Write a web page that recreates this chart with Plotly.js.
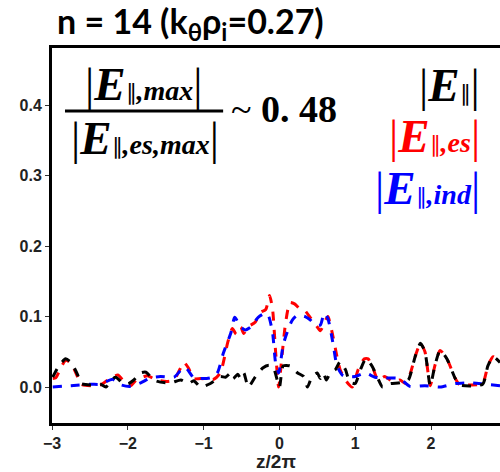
<!DOCTYPE html>
<html>
<head>
<meta charset="utf-8">
<script src="https://cdn.plot.ly/plotly-3.0.1.min.js"></script>
<style>html,body{margin:0;padding:0;background:#fff;}#chart{width:500px;height:472px;}</style>
</head>
<body>
<div id="chart"></div>
<script>
// |E_par,es| (red)
const xEs = [-2.99,-2.95,-2.88,-2.82,-2.75,-2.66,-2.62,-2.49,-2.36,-2.26,-2.13,-2.03,-1.96,-1.89,-1.83,-1.74,-1.66,-1.57,-1.47,-1.39,-1.30,-1.26,-1.20,-1.13,-1.04,-0.87,-0.78,-0.68,-0.62,-0.57,-0.51,-0.47,-0.42,-0.32,-0.25,-0.18,-0.13,-0.09,-0.05,-0.01,0.03,0.08,0.14,0.20,0.28,0.34,0.41,0.47,0.54,0.61,0.64,0.71,0.76,0.80,0.87,0.96,1.04,1.12,1.17,1.24,1.30,1.39,1.46,1.53,1.59,1.66,1.72,1.79,1.86,1.92,1.99,2.05,2.12,2.21,2.32,2.38,2.51,2.68,2.75,2.82,2.91];
const yEs = [0.012,0.013,0.028,0.038,0.034,0.014,0.004,0.002,0.003,0.010,0.017,0.005,0.002,0.010,0.013,0.016,0.012,0.009,0.008,0.010,0.028,0.035,0.027,0.012,0.012,0.011,0.020,0.064,0.083,0.075,0.085,0.076,0.085,0.092,0.106,0.110,0.130,0.110,0.050,0.000,0.040,0.090,0.120,0.118,0.110,0.108,0.098,0.090,0.080,0.095,0.100,0.070,0.043,0.025,0.010,0.000,0.025,0.040,0.040,0.025,0.010,0.015,0.010,0.007,0.010,0.005,0.017,0.043,0.062,0.050,0.002,0.030,0.052,0.040,0.012,0.003,0.003,0.005,0.030,0.043,0.035];

// |E_par,ind| (blue)
const xInd = [-2.99,-2.75,-2.49,-2.36,-2.20,-2.09,-1.96,-1.83,-1.70,-1.57,-1.39,-1.30,-1.24,-1.13,-1.04,-0.91,-0.82,-0.74,-0.64,-0.59,-0.51,-0.45,-0.38,-0.28,-0.18,-0.14,-0.09,-0.05,-0.01,0.05,0.11,0.17,0.24,0.34,0.41,0.47,0.54,0.59,0.64,0.71,0.76,0.84,1.00,1.13,1.26,1.39,1.59,1.72,1.92,2.12,2.32,2.51,2.71,2.91];
const yInd = [0.000,0.002,0.004,0.004,0.011,0.003,0.001,0.006,0.013,0.015,0.014,0.024,0.028,0.013,0.012,0.013,0.020,0.048,0.077,0.099,0.085,0.081,0.085,0.099,0.105,0.100,0.077,0.034,0.020,0.060,0.080,0.095,0.102,0.100,0.095,0.088,0.088,0.105,0.097,0.060,0.030,0.016,0.015,0.020,0.014,0.013,0.012,0.001,0.002,0.000,0.005,0.006,0.004,0.002];

// |E_par| (black)
const xTot = [-2.99,-2.91,-2.82,-2.75,-2.66,-2.62,-2.49,-2.36,-2.29,-2.22,-2.16,-2.05,-1.99,-1.92,-1.83,-1.76,-1.66,-1.57,-1.43,-1.30,-1.20,-1.13,-1.04,-0.91,-0.78,-0.71,-0.64,-0.61,-0.55,-0.51,-0.47,-0.41,-0.32,-0.22,-0.14,-0.08,0.00,0.05,0.14,0.24,0.32,0.37,0.43,0.50,0.54,0.58,0.62,0.67,0.74,0.80,0.87,0.93,1.00,1.07,1.14,1.22,1.30,1.36,1.46,1.59,1.70,1.79,1.86,1.92,1.99,2.05,2.12,2.21,2.32,2.38,2.68,2.75,2.82,2.91];
const yTot = [0.014,0.030,0.040,0.035,0.017,0.005,0.003,0.004,0.000,0.010,0.014,0.004,0.005,0.010,0.020,0.021,0.010,0.007,0.006,0.010,0.005,0.009,0.000,0.005,0.015,0.014,0.020,0.012,0.018,0.012,0.020,0.000,0.014,0.027,0.031,0.028,0.000,0.030,0.030,0.020,0.015,0.000,0.015,0.020,0.012,0.020,0.010,0.020,0.025,0.036,0.025,0.007,0.005,0.025,0.040,0.030,0.012,0.000,0.005,0.006,0.010,0.043,0.062,0.050,0.002,0.030,0.052,0.040,0.012,0.003,0.004,0.030,0.043,0.035];

const xTicks = [-3,-2,-1,0,1,2];
const yTicks = [0.0,0.1,0.2,0.3,0.4];

const serif = 'Liberation Serif';
const lineStyle = (c) => ({color: c, width: 3, dash: 'dash', shape: 'spline', smoothing: 0.6});

const traces = [
  {x: xEs, y: yEs, mode: 'lines', line: lineStyle('#ff0000'), name: 'es'},
  {x: xInd, y: yInd, mode: 'lines', line: lineStyle('#0000ff'), name: 'ind'},
  {x: xTot, y: yTot, mode: 'lines', line: lineStyle('#000000'), name: 'tot'}
];

const bar = () => '<span style="font-style:normal;font-weight:normal;font-size:46px">|</span>';
const E = () => '<i><b>E</b></i>';
const par = () => '<span style="font-size:22px;font-style:normal;font-weight:normal">∥</span>';
const sub = (s) => '<span style="font-size:28px"><i><b>' + s + '</b></i></span>';

const layout = {
  width: 500, height: 472,
  margin: {l: 52, r: 0, t: 48, b: 49},
  paper_bgcolor: '#fff', plot_bgcolor: '#fff',
  showlegend: false,
  title: {
    text: '<b>n = 14 (k<sub>θ</sub>ρ<sub>i</sub>=0.27)</b>',
    font: {family: 'Lato', size: 34, color: '#000'},
    xref: 'container', yref: 'container', x: 0.114, xanchor: 'left', y: 0.953, yanchor: 'middle'
  },
  xaxis: {
    range: [-3, 2.91], tickvals: xTicks, ticks: 'outside', ticklen: 4, tickwidth: 1, tickcolor: '#333',
    showline: true, linewidth: 3, linecolor: '#000', mirror: true, showgrid: false, zeroline: false,
    tickfont: {family: 'Liberation Sans', size: 16, color: '#222', weight: 'bold'},
    title: {text: '<b>z/2π</b>', font: {family: 'Liberation Sans', size: 19, color: '#222'}, standoff: 8}
  },
  yaxis: {
    range: [-0.051, 0.481], tickvals: yTicks, tickformat: '.1f', ticks: 'outside', ticklen: 4, tickwidth: 1, tickcolor: '#333',
    showline: true, linewidth: 3, linecolor: '#000', showgrid: false, zeroline: false,
    tickfont: {family: 'Liberation Sans', size: 16, color: '#222', weight: 'bold'}
  },
  shapes: [
    {type: 'line', xref: 'paper', yref: 'paper', x0: 0.029, x1: 0.382, y0: 0.832, y1: 0.832, line: {color: '#000', width: 3}}
  ],
  annotations: [
    {xref: 'paper', yref: 'paper', x: 0.205, y: 0.905, xanchor: 'center', yanchor: 'middle', showarrow: false,
     text: bar() + E() + par() + sub(',max') + bar(), font: {family: serif, size: 47, color: '#000'}},
    {xref: 'paper', yref: 'paper', x: 0.208, y: 0.76, xanchor: 'center', yanchor: 'middle', showarrow: false,
     text: bar() + E() + par() + sub(',es,max') + bar(), font: {family: serif, size: 47, color: '#000'}},
    {xref: 'paper', yref: 'paper', x: 0.395, y: 0.838, xanchor: 'left', yanchor: 'middle', showarrow: false,
     text: '~ <b>0. 48</b>', font: {family: serif, size: 38, color: '#000'}},
    {xref: 'paper', yref: 'paper', x: 0.96, y: 0.901, xanchor: 'right', yanchor: 'middle', showarrow: false,
     text: bar() + E() + par() + bar(), font: {family: serif, size: 47, color: '#000'}},
    {xref: 'paper', yref: 'paper', x: 0.96, y: 0.765, xanchor: 'right', yanchor: 'middle', showarrow: false,
     text: bar() + E() + par() + sub(',es') + bar(), font: {family: serif, size: 47, color: '#ff0000'}},
    {xref: 'paper', yref: 'paper', x: 0.96, y: 0.627, xanchor: 'right', yanchor: 'middle', showarrow: false,
     text: bar() + E() + par() + sub(',ind') + bar(), font: {family: serif, size: 47, color: '#0000ff'}}
  ]
};

Plotly.newPlot('chart', traces, layout, {staticPlot: true, displayModeBar: false});
</script>
</body>
</html>
